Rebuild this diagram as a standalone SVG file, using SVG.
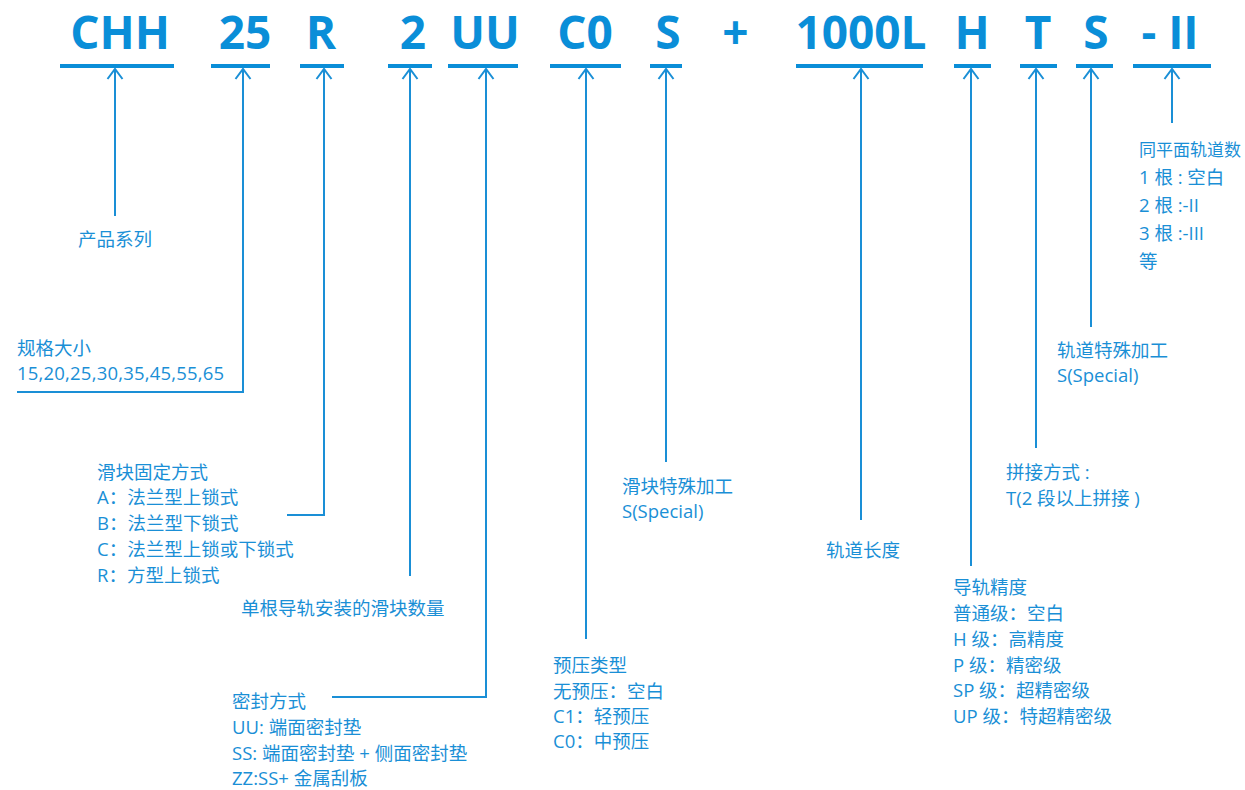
<svg xmlns="http://www.w3.org/2000/svg" width="1245" height="790" viewBox="0 0 1245 790">
<style>
.code{font-family:"Open Sans","Liberation Sans",sans-serif;font-weight:bold;font-size:46px;fill:#0a8ed8;text-anchor:middle}
.lbl{font-family:"Open Sans","Noto Sans CJK SC",sans-serif;font-size:18.5px;fill:#1a8fd6}
.sm{font-size:17px}
.ul{stroke:#0a8ed8;stroke-width:4}
.cn{fill:none;stroke:#1a8fd6;stroke-width:2}
</style>
<defs>
<marker id="arr" viewBox="-12 -9 14 18" markerWidth="14" markerHeight="18" refX="0" refY="0" orient="auto" markerUnits="userSpaceOnUse">
<path d="M-10,-7.5 L0,0 L-10,7.5" fill="none" stroke="#1a8fd6" stroke-width="2"/>
</marker>
</defs>
<rect width="1245" height="790" fill="#ffffff"/>
<g id="codes">
<g id="n-chh"><text class="code" x="120" y="49">CHH</text><line class="ul" x1="60" y1="66" x2="174" y2="66"/></g>
<g id="n-25"><text class="code" x="245" y="49">25</text><line class="ul" x1="211" y1="66" x2="270" y2="66"/></g>
<g id="n-r"><text class="code" x="321" y="49">R</text><line class="ul" x1="300" y1="66" x2="344" y2="66"/></g>
<g id="n-2"><text class="code" x="413" y="49">2</text><line class="ul" x1="388" y1="66" x2="432" y2="66"/></g>
<g id="n-uu"><text class="code" x="485" y="49">UU</text><line class="ul" x1="448" y1="66" x2="518" y2="66"/></g>
<g id="n-c0"><text class="code" x="585" y="49">C0</text><line class="ul" x1="550" y1="66" x2="621" y2="66"/></g>
<g id="n-s"><text class="code" x="668" y="49">S</text><line class="ul" x1="650" y1="66" x2="682" y2="66"/></g>
<g id="n-plus"><text class="code" x="735.5" y="49">+</text></g>
<g id="n-1000l"><text class="code" x="861" y="49">1000L</text><line class="ul" x1="796" y1="66" x2="923" y2="66"/></g>
<g id="n-h"><text class="code" x="972" y="49">H</text><line class="ul" x1="954" y1="66" x2="991" y2="66"/></g>
<g id="n-t"><text class="code" x="1038" y="49">T</text><line class="ul" x1="1020" y1="66" x2="1057" y2="66"/></g>
<g id="n-s2"><text class="code" x="1096" y="49">S</text><line class="ul" x1="1076" y1="66" x2="1113" y2="66"/></g>
<g id="n-ii"><text class="code" x="1170" y="49">- II</text><line class="ul" x1="1133" y1="66" x2="1211" y2="66"/></g>
</g>
<g id="connectors">
<path class="cn" d="M115,216 V69" marker-end="url(#arr)"/>
<path class="cn" d="M17,392 H243 V69" marker-end="url(#arr)"/>
<path class="cn" d="M287,515 H324 V69" marker-end="url(#arr)"/>
<path class="cn" d="M410,576 V69" marker-end="url(#arr)"/>
<path class="cn" d="M332,697 H486 V69" marker-end="url(#arr)"/>
<path class="cn" d="M586,639 V69" marker-end="url(#arr)"/>
<path class="cn" d="M666,462 V69" marker-end="url(#arr)"/>
<path class="cn" d="M861,520 V69" marker-end="url(#arr)"/>
<path class="cn" d="M971,566 V69" marker-end="url(#arr)"/>
<path class="cn" d="M1036,448 V69" marker-end="url(#arr)"/>
<path class="cn" d="M1091,327 V69" marker-end="url(#arr)"/>
<path class="cn" d="M1172,123 V69" marker-end="url(#arr)"/>
</g>
<g id="l-series"><text class="lbl" x="78" y="246">产品系列</text></g>
<g id="l-size"><text class="lbl" x="17" y="355">规格大小</text><text class="lbl" x="17" y="380" letter-spacing="0.2">15,20,25,30,35,45,55,65</text></g>
<g id="l-fix">
<text class="lbl" x="97" y="479">滑块固定方式</text>
<text class="lbl" x="97" y="504">A：法兰型上锁式</text>
<text class="lbl" x="97" y="530">B：法兰型下锁式</text>
<text class="lbl" x="97" y="556">C：法兰型上锁或下锁式</text>
<text class="lbl" x="97" y="582">R：方型上锁式</text>
</g>
<g id="l-count"><text class="lbl" x="241" y="615">单根导轨安装的滑块数量</text></g>
<g id="l-seal">
<text class="lbl" x="232" y="708">密封方式</text>
<text class="lbl" x="232" y="734">UU: 端面密封垫</text>
<text class="lbl" x="232" y="760">SS: 端面密封垫 + 侧面密封垫</text>
<text class="lbl" x="232" y="785">ZZ:SS+ 金属刮板</text>
</g>
<g id="l-preload">
<text class="lbl" x="553" y="672">预压类型</text>
<text class="lbl" x="553" y="698">无预压：空白</text>
<text class="lbl" x="553" y="723">C1：轻预压</text>
<text class="lbl" x="553" y="748">C0：中预压</text>
</g>
<g id="l-blockspecial"><text class="lbl" x="622" y="493">滑块特殊加工</text><text class="lbl" x="622" y="518">S(Special)</text></g>
<g id="l-length"><text class="lbl" x="826" y="557">轨道长度</text></g>
<g id="l-accuracy">
<text class="lbl" x="953" y="594">导轨精度</text>
<text class="lbl" x="953" y="620">普通级：空白</text>
<text class="lbl" x="953" y="646">H 级：高精度</text>
<text class="lbl" x="953" y="672">P 级：精密级</text>
<text class="lbl" x="953" y="697">SP 级：超精密级</text>
<text class="lbl" x="953" y="723">UP 级：特超精密级</text>
</g>
<g id="l-joint"><text class="lbl" x="1006" y="479">拼接方式 :</text><text class="lbl" x="1006" y="505">T(2 段以上拼接 )</text></g>
<g id="l-railspecial"><text class="lbl" x="1057" y="357">轨道特殊加工</text><text class="lbl" x="1057" y="382">S(Special)</text></g>
<g id="l-rails">
<text class="lbl sm" x="1139" y="156">同平面轨道数</text>
<text class="lbl" x="1139" y="184">1 根 : 空白</text>
<text class="lbl" x="1139" y="212">2 根 :-II</text>
<text class="lbl" x="1139" y="240">3 根 :-III</text>
<text class="lbl" x="1139" y="268">等</text>
</g>
</svg>
